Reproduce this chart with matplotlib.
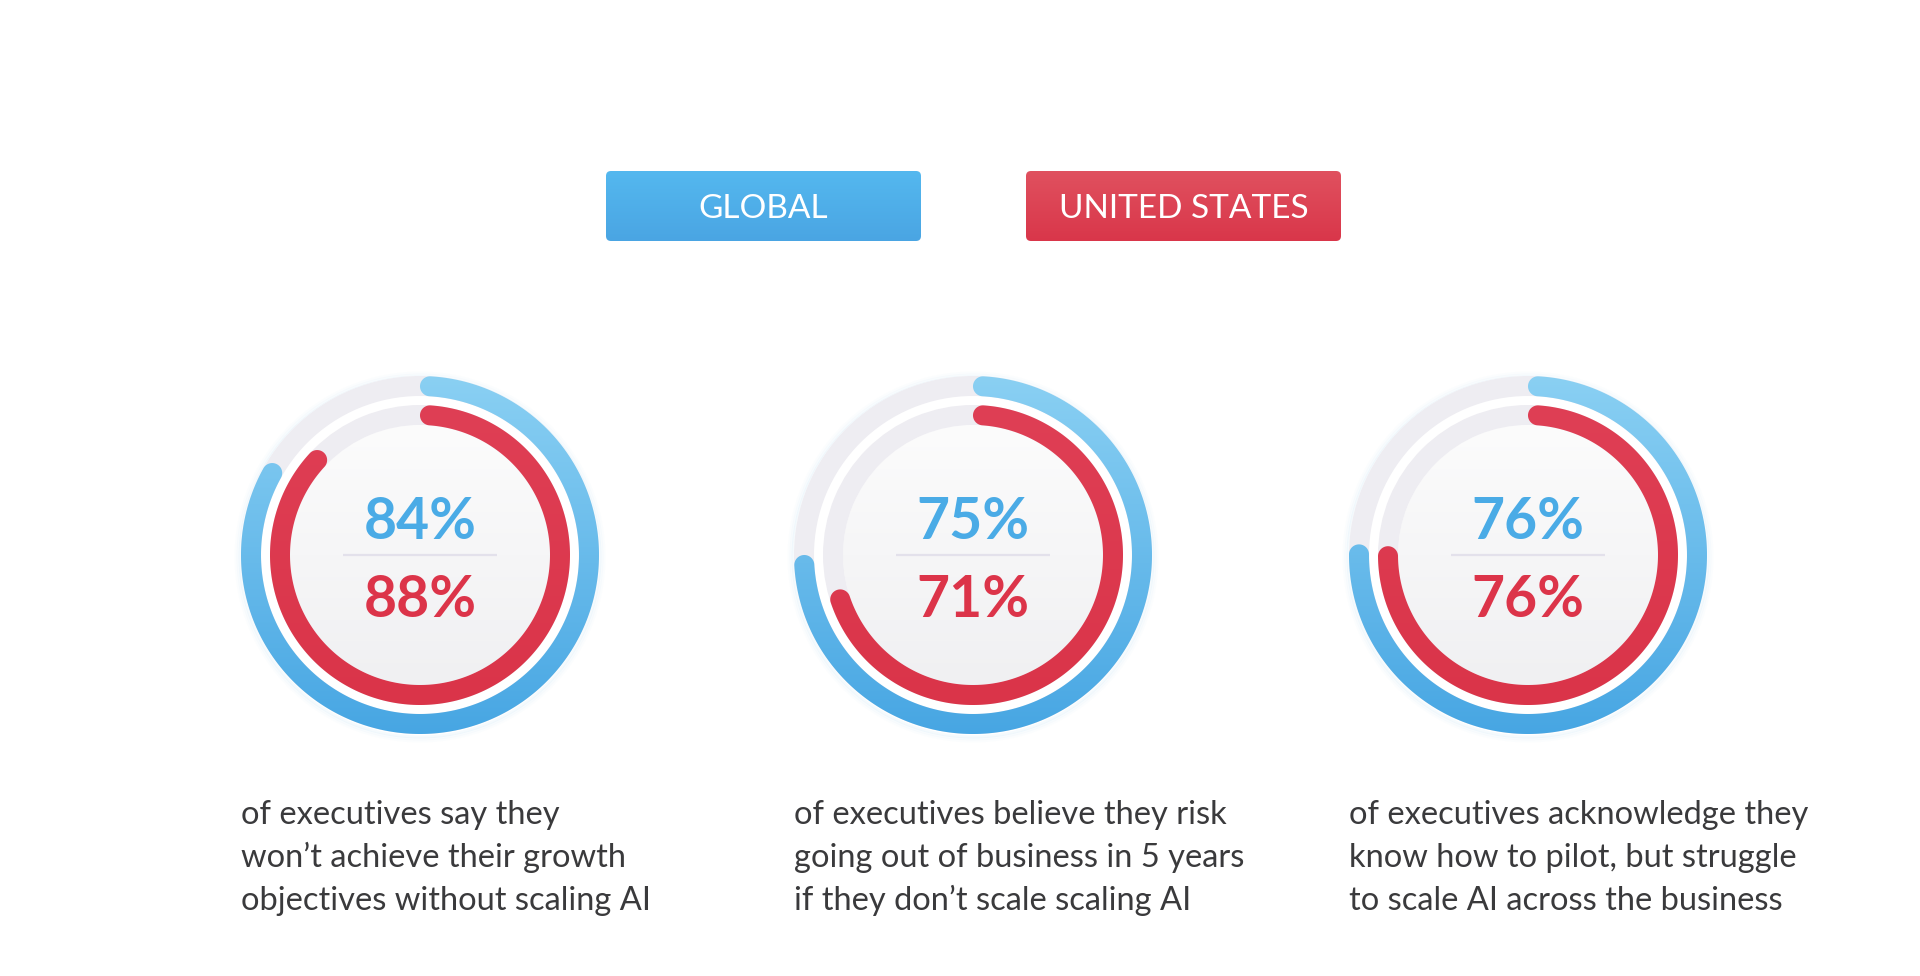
import numpy as np
import matplotlib
matplotlib.use("Agg")
import matplotlib.pyplot as plt
from matplotlib.patches import PathPatch, FancyBboxPatch, Wedge, Circle
from matplotlib.path import Path
from matplotlib.colors import LinearSegmentedColormap

# ---------------- data ----------------
legend_labels = ["GLOBAL", "UNITED STATES"]
global_pct = [84, 75, 76]
us_pct = [88, 71, 76]
descriptions = [
    "of executives say they\nwon\u2019t achieve their growth\nobjectives without scaling AI",
    "of executives believe they risk\ngoing out of business in 5 years\nif they don\u2019t scale scaling AI",
    "of executives acknowledge they\nknow how to pilot, but struggle\nto scale AI across the business",
]

# ---------------- style ----------------
W, H = 1920, 976
BLUE_TOP, BLUE_BOT = "#8ad0f3", "#47a6e3"
RED_TOP, RED_BOT = "#df3f55", "#da3449"
TRACK = "#eeedf2"
BLUE_TXT = "#4aabe6"
RED_TXT = "#dc3449"
DESC_COL = "#3a3a3c"
FONT = ["Lato", "DejaVu Sans"]

fig = plt.figure(figsize=(W / 100, H / 100), dpi=100)
ax = fig.add_axes([0, 0, 1, 1])
ax.set_xlim(0, W)
ax.set_ylim(H, 0)
ax.axis("off")


def gradient_fill(ax, patch, x0, x1, y0, y1, c_top, c_bot, z):
    cmap = LinearSegmentedColormap.from_list("g", [c_top, c_bot])
    grad = np.linspace(0, 1, 256).reshape(-1, 1)
    im = ax.imshow(grad, cmap=cmap, extent=(x0, x1, y1, y0), origin="upper",
                   aspect="auto", zorder=z, interpolation="bilinear")
    im.set_clip_path(patch)


def arc_patch(cx, cy, r_in, r_out, frac):
    rm = (r_in + r_out) / 2
    hw = (r_out - r_in) / 2
    d = hw / rm
    t0, t1 = d, frac * 2 * np.pi - d
    t = np.linspace(t0, t1, 300)
    outer = np.c_[cx + r_out * np.sin(t), cy - r_out * np.cos(t)]
    phi = np.linspace(0, np.pi, 40)
    rad1 = np.array([np.sin(t1), -np.cos(t1)])
    tan1 = np.array([np.cos(t1), np.sin(t1)])
    c1 = np.array([cx, cy]) + rm * rad1
    cap_end = c1 + hw * (np.outer(np.cos(phi), rad1) + np.outer(np.sin(phi), tan1))
    inner = np.c_[cx + r_in * np.sin(t[::-1]), cy - r_in * np.cos(t[::-1])]
    rad0 = np.array([np.sin(t0), -np.cos(t0)])
    tan0 = np.array([np.cos(t0), np.sin(t0)])
    c0 = np.array([cx, cy]) + rm * rad0
    cap_start = c0 + hw * (-np.outer(np.cos(phi), rad0) - np.outer(np.sin(phi), tan0))
    verts = np.vstack([outer, cap_end, inner, cap_start, outer[:1]])
    codes = [Path.MOVETO] + [Path.LINETO] * (len(verts) - 2) + [Path.CLOSEPOLY]
    return PathPatch(Path(verts, codes), facecolor="none", edgecolor="none")


# ---------------- legend buttons ----------------
btn_specs = [(606, "#54b8ef", "#4aa5e3"),
             (1026, "#e0515f", "#d9364a")]
for (bx, ctop, cbot), label in zip(btn_specs, legend_labels):
    bw, bh, by = 315, 70, 171
    box = FancyBboxPatch((bx, by), bw, bh, boxstyle="round,pad=0,rounding_size=5",
                         facecolor="none", edgecolor="none")
    ax.add_patch(box)
    gradient_fill(ax, box, bx, bx + bw, by, by + bh, ctop, cbot, 2)
    ax.text(bx + bw / 2, by + bh / 2 + 3, label, color="white", fontsize=24,
            family=FONT, weight="normal", ha="center", va="center", zorder=3)

# ---------------- donuts ----------------
centers_x = [420, 973, 1528]
cy = 555
R_OUT, W_OUT = 179, 20
R_IN_OUT, W_IN = 150, 20

for cx, g, u, desc in zip(centers_x, global_pct, us_pct, descriptions):
    # soft glow
    for k, a in enumerate([0.10, 0.06, 0.03]):
        ax.add_patch(Circle((cx, cy + 2), R_OUT + 1 + 2 * k, facecolor="none",
                            edgecolor="#9fd3f3", lw=2.2, alpha=a, zorder=1))
    # white disc
    ax.add_patch(Circle((cx, cy), R_OUT, facecolor="white", edgecolor="none", zorder=1.5))
    # inner gradient disc
    disc = Circle((cx, cy), R_IN_OUT - W_IN, facecolor="none", edgecolor="none")
    ax.add_patch(disc)
    gradient_fill(ax, disc, cx - 130, cx + 130, cy - 130, cy + 130, "#fcfcfc", "#f0f0f2", 2)
    # tracks
    ax.add_patch(Wedge((cx, cy), R_OUT, 0, 360, width=W_OUT, facecolor=TRACK,
                       edgecolor="none", zorder=2))
    ax.add_patch(Wedge((cx, cy), R_IN_OUT, 0, 360, width=W_IN, facecolor=TRACK,
                       edgecolor="none", zorder=2))
    # value arcs
    pb = arc_patch(cx, cy, R_OUT - W_OUT, R_OUT, g / 100)
    ax.add_patch(pb)
    gradient_fill(ax, pb, cx - R_OUT, cx + R_OUT, cy - R_OUT, cy + R_OUT,
                  BLUE_TOP, BLUE_BOT, 3)
    pr = arc_patch(cx, cy, R_IN_OUT - W_IN, R_IN_OUT, u / 100)
    ax.add_patch(pr)
    gradient_fill(ax, pr, cx - R_IN_OUT, cx + R_IN_OUT, cy - R_IN_OUT, cy + R_IN_OUT,
                  RED_TOP, RED_BOT, 3)
    # center labels
    ax.text(cx, cy - 16, f"{g}%", color=BLUE_TXT, fontsize=41, family=FONT,
            weight="bold", ha="center", va="baseline", zorder=4)
    ax.text(cx, cy + 62, f"{u}%", color=RED_TXT, fontsize=41, family=FONT,
            weight="bold", ha="center", va="baseline", zorder=4)
    ax.plot([cx - 77, cx + 77], [cy, cy], color="#e3e1eb", lw=1.6, zorder=4,
            solid_capstyle="butt")
    # description
    for i, line in enumerate(desc.split("\n")):
        ax.text(cx - 179, 824 + 43 * i, line, color=DESC_COL, fontsize=23.5,
                family=FONT, ha="left", va="baseline", zorder=4)

fig.savefig("out.png", dpi=100, facecolor="white")
